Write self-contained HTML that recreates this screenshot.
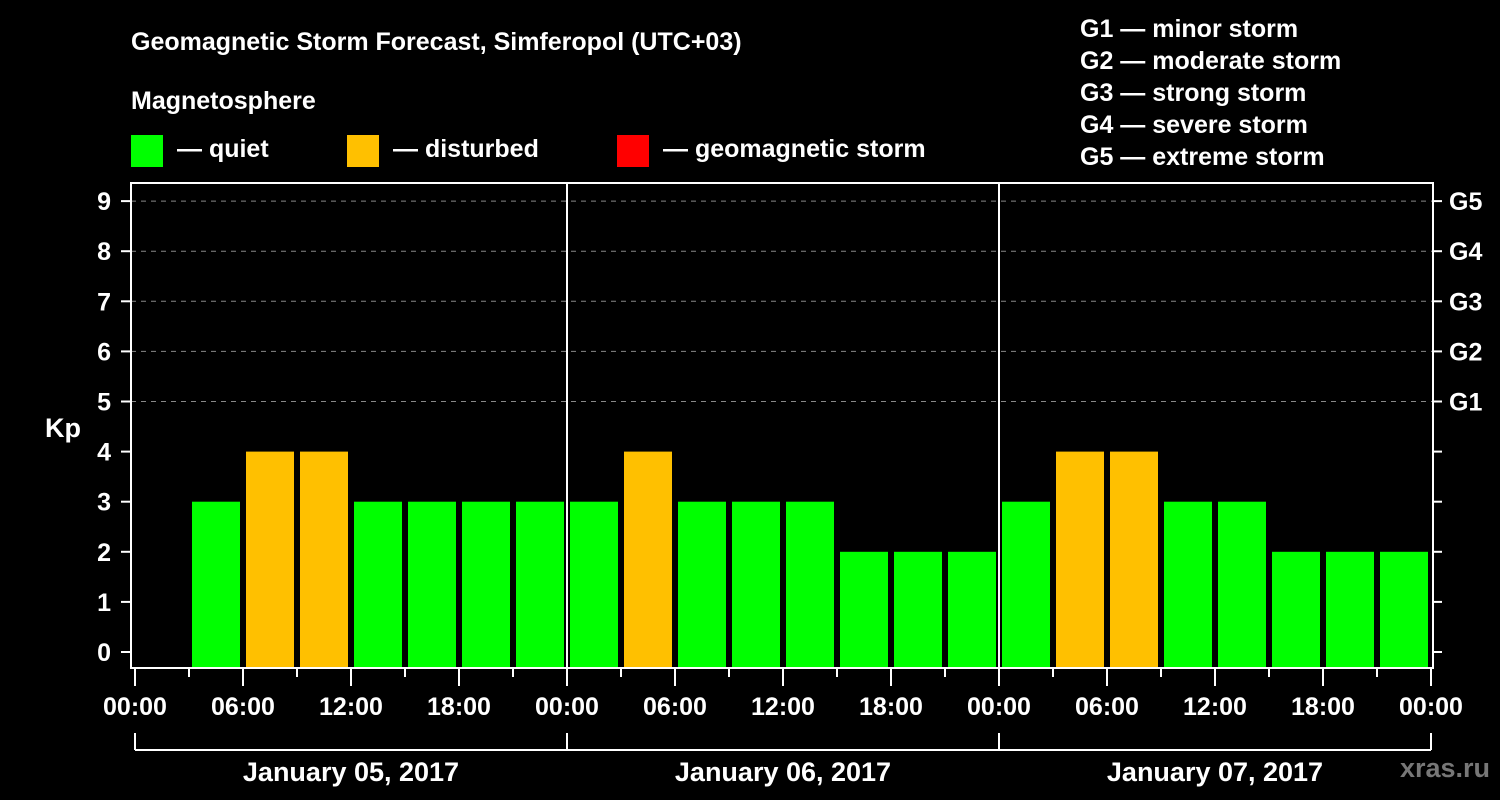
<!DOCTYPE html>
<html><head><meta charset="utf-8"><style>
body{margin:0;background:#000;}
svg{display:block;font-family:"Liberation Sans",Arial,sans-serif;font-weight:bold;}
</style></head><body>
<svg id="chart" width="1500" height="800" viewBox="0 0 1500 800">
<rect width="1500" height="800" fill="#000"/>
<text x="131" y="50" font-size="25" fill="#fff">Geomagnetic Storm Forecast, Simferopol (UTC+03)</text>
<text x="131" y="109" font-size="25" fill="#fff">Magnetosphere</text>
<g><rect x="131" y="135" width="32" height="32" fill="#00ff00"/><text x="177" y="157" font-size="25" fill="#fff">— quiet</text></g>
<g><rect x="347" y="135" width="32" height="32" fill="#ffc000"/><text x="393" y="157" font-size="25" fill="#fff">— disturbed</text></g>
<g><rect x="617" y="135" width="32" height="32" fill="#ff0000"/><text x="663" y="157" font-size="25" fill="#fff">— geomagnetic storm</text></g>
<g font-size="25" fill="#fff">
<text x="1080" y="37">G1 — minor storm</text><text x="1080" y="69">G2 — moderate storm</text><text x="1080" y="101">G3 — strong storm</text><text x="1080" y="133">G4 — severe storm</text><text x="1080" y="165">G5 — extreme storm</text>
</g>
<text x="63" y="437" font-size="27" fill="#fff" text-anchor="middle">Kp</text>
<text x="1490" y="777" font-size="27" fill="#777" text-anchor="end">xras.ru</text>
<g id="grid"></g><g id="bars"></g><g id="axes"></g>
</svg>
<script>
const days = ["January 05, 2017","January 06, 2017","January 07, 2017"];
const kpValues = [null,3,4,4,3,3,3,3, 3,4,3,3,3,2,2,2, 3,4,4,3,3,2,2,2];
const yTicks = [0,1,2,3,4,5,6,7,8,9];
const gLabels = {5:"G1",6:"G2",7:"G3",8:"G4",9:"G5"};
const hourLabels = ["00:00","06:00","12:00","18:00"];
const NS="http://www.w3.org/2000/svg";
const x0=135, slotW=54, plotL=131, plotR=1433, plotT=183, plotB=668;
const y=v=>652-v*50.1;
const x=i=>x0+i*slotW;
function mk(tag,attrs,parent,txt){const e=document.createElementNS(NS,tag);for(const k in attrs)e.setAttribute(k,attrs[k]);if(txt!==undefined)e.textContent=txt;parent.appendChild(e);return e;}
const grid=document.getElementById('grid'),bars=document.getElementById('bars'),axes=document.getElementById('axes');
yTicks.forEach(v=>{
  if(v>=5){const l=mk('line',{x1:plotL,x2:plotR,y1:y(v),y2:y(v),stroke:'#888','stroke-dasharray':'5,5','stroke-width':1},grid);
  
  }
  const t=mk('line',{x1:121,x2:plotL,y1:y(v),y2:y(v),stroke:'#fff','stroke-width':2},axes);
  const tr=mk('line',{x1:plotR,x2:plotR+9,y1:y(v),y2:y(v),stroke:'#fff','stroke-width':2},axes);
  const lb=mk('text',{x:111,y:y(v)+9,'font-size':25,fill:'#fff','text-anchor':'end'},axes,String(v));
  
  
  if(gLabels[v]){const g=mk('text',{x:1449,y:y(v)+9,'font-size':25,fill:'#fff'},axes,gLabels[v]);
  
  }
});
kpValues.forEach((v,i)=>{
  if(v===null)return;
  const c=v>=5?'#ff0000':(v>=4?'#ffc000':'#00ff00');
  const r=mk('rect',{x:x(i)+3,y:y(v),width:slotW-6,height:plotB-y(v),fill:c},bars);
  
  
});
mk('rect',{x:plotL,y:plotT,width:plotR-plotL,height:plotB-plotT,fill:'none',stroke:'#fff','stroke-width':2},axes);
for(let d=1;d<days.length;d++){mk('line',{x1:x(d*8),x2:x(d*8),y1:plotT,y2:plotB,stroke:'#fff','stroke-width':2},axes);}
for(let i=0;i<=kpValues.length;i++){
  const major=i%2===0;
  mk('line',{x1:x(i),x2:x(i),y1:plotB,y2:major?686:677,stroke:'#fff','stroke-width':2},axes);
  if(major){const lb=mk('text',{x:x(i),y:715,'font-size':25,fill:'#fff','text-anchor':'middle'},axes,hourLabels[(i/2)%4]);
  
  }
}
mk('line',{x1:x(0),x2:x(24),y1:750,y2:750,stroke:'#fff','stroke-width':2},axes);
days.forEach((d,k)=>{
  mk('line',{x1:x(k*8),x2:x(k*8),y1:733,y2:750,stroke:'#fff','stroke-width':2},axes);
  const t=mk('text',{x:x(k*8+4),y:781,'font-size':27,fill:'#fff','text-anchor':'middle'},axes,d);
  
  
});
mk('line',{x1:x(24),x2:x(24),y1:733,y2:750,stroke:'#fff','stroke-width':2},axes);
</script>
</body></html>
